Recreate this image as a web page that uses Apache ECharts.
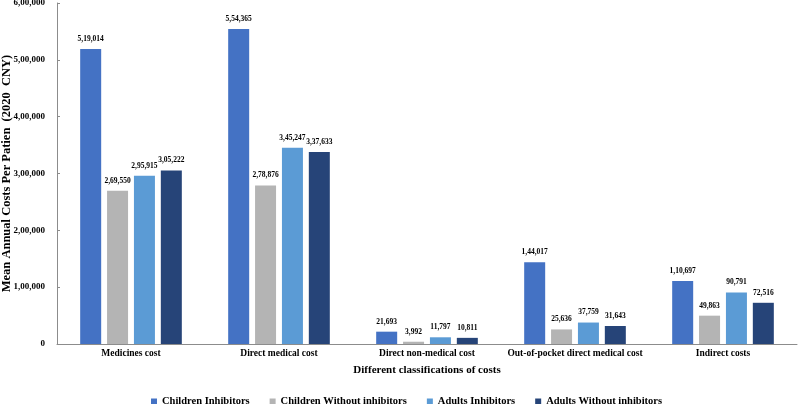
<!DOCTYPE html>
<html>
<head>
<meta charset="utf-8">
<script src="https://cdn.jsdelivr.net/npm/echarts@6/dist/echarts.min.js"></script>
<style>
  html, body { margin: 0; padding: 0; background: #fff; }
  #chart { width: 798px; height: 404px; }
</style>
</head>
<body>
<div id="chart"></div>
<script>
  const categories = ['Medicines cost', 'Direct medical cost', 'Direct non-medical cost', 'Out-of-pocket direct medical cost', 'Indirect costs']
  const childrenInhibitors = [519014, 554365, 21693, 144017, 110697]
  const childrenWithout = [269550, 278876, 3992, 25636, 49863]
  const adultsInhibitors = [295915, 345247, 11797, 37759, 90791]
  const adultsWithout = [305222, 337633, 10811, 31643, 72516]

  const font = '"Liberation Serif", "Times New Roman", serif'

  // indian style grouping: 5,19,014
  function inr(v) {
    let s = String(Math.round(v))
    if (s.length <= 3) return s
    let last = s.slice(-3)
    let rest = s.slice(0, -3)
    rest = rest.replace(/\B(?=(\d{2})+(?!\d))/g, ',')
    return rest + ',' + last
  }

  function series(name, data, color) {
    return {
      name: name,
      type: 'bar',
      data: data,
      barWidth: 21,
      barGap: '28%',
      itemStyle: { color: color },
      label: {
        show: true,
        position: 'top',
        distance: 6,
        fontFamily: font,
        fontWeight: 'bold',
        fontSize: 7.5,
        color: '#000',
        formatter: p => inr(p.value)
      }
    }
  }

  let chart = echarts.init(document.getElementById('chart'))
  chart.setOption({
    animation: false,
    grid: { left: 57, right: 1, top: 3, bottom: 60, outerBoundsMode: 'none', containLabel: false },
    legend: {
      top: 391,
      left: 146,
      itemWidth: 6,
      itemHeight: 6,
      itemGap: 20,
      icon: 'rect',
      textStyle: { fontFamily: font, fontWeight: 'bold', fontSize: 10.5, color: '#000' }
    },
    xAxis: {
      type: 'category',
      data: categories,
      name: 'Different classifications of costs',
      nameLocation: 'middle',
      nameGap: 21,
      nameMoveOverlap: false,
      nameTextStyle: { fontFamily: font, fontWeight: 'bold', fontSize: 11, color: '#000' },
      axisLine: { lineStyle: { color: '#8c8c8c' } },
      axisTick: { inside: true, length: 3, lineStyle: { color: '#8c8c8c' } },
      axisLabel: { fontFamily: font, fontWeight: 'bold', fontSize: 9.5, color: '#000', margin: 5, interval: 0 }
    },
    yAxis: {
      type: 'value',
      min: 0,
      max: 600000,
      interval: 100000,
      name: 'Mean Annual Costs Per Patien  (2020  CNY)',
      nameLocation: 'middle',
      nameGap: 44,
      nameMoveOverlap: false,
      nameTextStyle: { fontFamily: font, fontWeight: 'bold', fontSize: 12.5, color: '#000' },
      axisLine: { show: true, lineStyle: { color: '#8c8c8c' } },
      axisTick: { show: true, inside: true, length: 3, lineStyle: { color: '#8c8c8c' } },
      splitLine: { show: false },
      axisLabel: { fontFamily: font, fontWeight: 'bold', fontSize: 9, color: '#000', margin: 12, formatter: v => inr(v) }
    },
    series: [
      series('Children Inhibitors', childrenInhibitors, '#4472C4'),
      series('Children Without inhibitors', childrenWithout, '#B4B4B4'),
      series('Adults Inhibitors', adultsInhibitors, '#5B9BD5'),
      series('Adults Without inhibitors', adultsWithout, '#264478')
    ]
  })
</script>
</body>
</html>
